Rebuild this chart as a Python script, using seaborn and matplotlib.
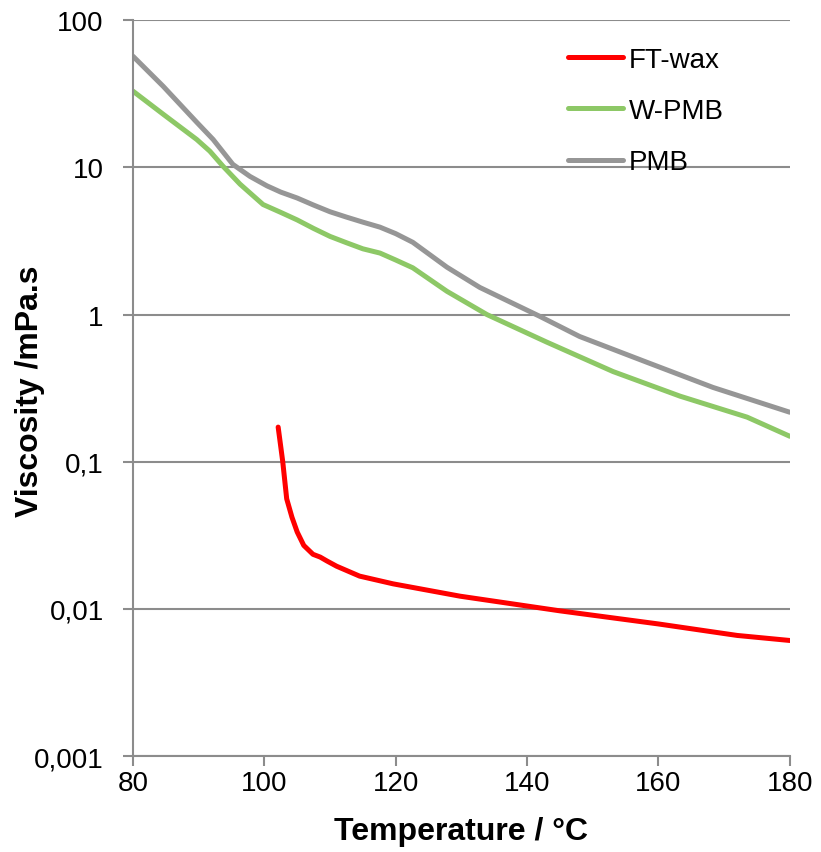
import numpy as np
import pandas as pd
import matplotlib
matplotlib.use("Agg")
import matplotlib.pyplot as plt
import matplotlib.ticker as mticker
import seaborn as sns

# values (temperature in °C, viscosity in mPa.s)
temp_pmb = [80, 84.6, 89.7, 92.2, 95.2, 97.8, 100.4, 102.5, 105, 107.5, 110, 112.5, 115,
            117.6, 120, 122.6, 127.8, 132.8, 141.9, 148, 158.2, 168.3, 180]
visc_pmb = [57, 35.6, 20.3, 15.5, 10.5, 8.7, 7.5, 6.8, 6.2, 5.55, 5.0, 4.6, 4.25,
            3.93, 3.55, 3.1, 2.1, 1.53, 0.975, 0.71, 0.475, 0.32, 0.217]

temp_wpmb = [80, 84.6, 89.7, 91.7, 93.7, 96.3, 99.8, 102.5, 105, 107.5, 110, 112.5, 115,
             117.6, 120, 122.6, 127.8, 133.9, 143, 153.1, 163.3, 173.5, 180]
visc_wpmb = [33, 23, 15.5, 12.9, 10.2, 7.7, 5.6, 4.95, 4.4, 3.85, 3.4, 3.08, 2.8,
             2.62, 2.35, 2.08, 1.44, 1.0, 0.65, 0.41, 0.279, 0.201, 0.149]

temp_ft = [102.1, 102.8, 103.4, 104.2, 105, 106, 107.4, 108.5, 109.5, 111, 114.5, 119.6,
           129.8, 145, 160, 170, 172, 180]
visc_ft = [0.172, 0.1, 0.056, 0.042, 0.0333, 0.027, 0.0235, 0.0225, 0.0212, 0.0195, 0.0167,
           0.0148, 0.0122, 0.0097, 0.0079, 0.0068, 0.0066, 0.0061]

series = ["FT-wax", "W-PMB", "PMB"]
colors = {"FT-wax": "#FF0000", "W-PMB": "#8DC866", "PMB": "#969696"}

df = pd.concat([
    pd.DataFrame({"T": temp_ft, "eta": visc_ft, "s": "FT-wax"}),
    pd.DataFrame({"T": temp_wpmb, "eta": visc_wpmb, "s": "W-PMB"}),
    pd.DataFrame({"T": temp_pmb, "eta": visc_pmb, "s": "PMB"}),
])

sns.set_style("white")
plt.rcParams['font.family'] = ['Liberation Sans', 'DejaVu Sans']
plt.rcParams['text.color'] = 'black'
plt.rcParams['axes.labelcolor'] = 'black'

fig = plt.figure(figsize=(8.21, 8.53), dpi=100)
ax = fig.add_axes([0.162, 0.1125, 0.8, 0.8625])

sns.lineplot(data=df, x="T", y="eta", hue="s", hue_order=series, palette=colors,
             linewidth=3.6, sort=False, ax=ax, estimator=None)
for ln in ax.lines:
    ln.set_solid_joinstyle("round")
    ln.set_solid_capstyle("round")

ax.set_yscale("log")
ax.set_xlim(80, 180)
ax.set_ylim(0.001, 100)

ax.yaxis.set_major_locator(mticker.LogLocator(base=10, numticks=10))
ax.yaxis.set_minor_locator(mticker.NullLocator())
ax.yaxis.set_major_formatter(mticker.FuncFormatter(
    lambda v, p: ("%g" % v).replace(".", ",")))
ax.set_xticks([80, 100, 120, 140, 160, 180])

ax.grid(axis="y", color="#8C8C8C", linewidth=1.5)
ax.set_axisbelow(True)
for side in ["top", "right"]:
    ax.spines[side].set_visible(False)
for side in ["left", "bottom"]:
    ax.spines[side].set_color("#8C8C8C")
    ax.spines[side].set_linewidth(1.5)
ax.tick_params(axis="both", which="major", direction="out", length=7, width=1.5,
               color="#8C8C8C", labelsize=20, labelcolor="black", left=True, bottom=True)
ax.tick_params(axis="x", pad=3)
ax.tick_params(axis="y", pad=14)

ax.set_xlabel("Temperature / °C", fontsize=23, fontweight="bold")
ax.set_ylabel("Viscosity /mPa.s", fontsize=23, fontweight="bold")
ax.xaxis.set_label_coords(0.5, -0.081)
ax.yaxis.set_label_coords(-0.134, 0.497)

leg = ax.legend(loc="upper left", bbox_to_anchor=(0.662, 0.964), frameon=False,
                borderpad=0, borderaxespad=0, fontsize=20, handlelength=2.0,
                handletextpad=0.2, labelspacing=0.91)
for h in leg.get_lines():
    h.set_linewidth(3.6)
    h.set_solid_capstyle("round")

fig.savefig("out.png", dpi=100)
